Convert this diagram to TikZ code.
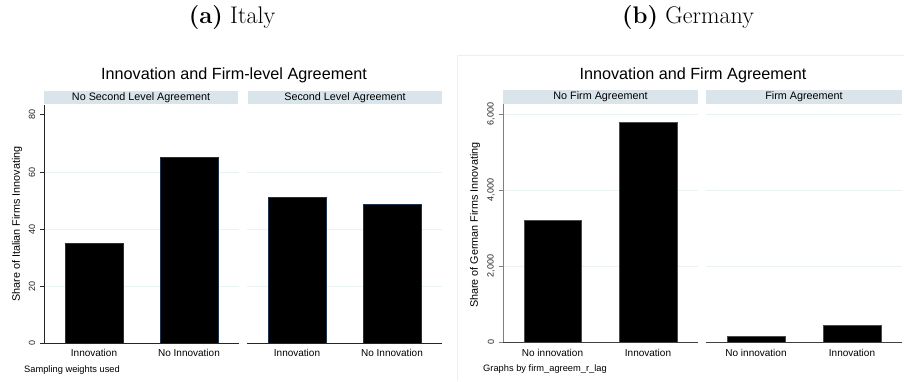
\documentclass[tikz,border=0pt]{standalone}
\usepackage{fontspec}
\setsansfont{Liberation Sans}
\definecolor{stripc}{HTML}{D9E4EB}
\definecolor{gridc}{HTML}{EAF2F3}
\definecolor{barline}{HTML}{1A3350}
\definecolor{frame}{HTML}{EEEEEE}
\definecolor{gaxis}{HTML}{808080}
\tikzset{
  strip/.style={fill=stripc, draw=none},
  gridl/.style={draw=gridc, line width=0.8pt},
  ibar/.style={fill=black, draw=barline, line width=0.8pt},
  gbar/.style={fill=black, draw=black!70, line width=0.6pt},
  iaxis/.style={draw=black!85, line width=0.8pt},
  gaxisl/.style={draw=gaxis, line width=0.8pt},
  ttl/.style={font=\sffamily\fontsize{16.2}{18}\selectfont, inner sep=0pt},
  striptxt/.style={font=\sffamily\fontsize{10.8}{12}\selectfont, inner sep=0pt},
  cat/.style={font=\sffamily\fontsize{10}{11}\selectfont, inner sep=0pt},
  tick/.style={font=\sffamily\fontsize{9}{10}\selectfont, inner sep=0pt, rotate=90, text=black!85},
  ylab/.style={font=\sffamily\fontsize{10.8}{12}\selectfont, inner sep=0pt, rotate=90},
  note/.style={font=\sffamily\fontsize{9.3}{10}\selectfont, inner sep=0pt, anchor=west},
  head/.style={font=\fontsize{24}{28}\selectfont, inner sep=0pt}
}
\begin{document}
\begin{tikzpicture}[x=1pt,y=-1pt]
\useasboundingbox (0,0) rectangle (904,381);
\fill[white] (0,0) rectangle (904,381);
% headings
\node[head] (ha) at (232,18) {\textbf{(a)} Italy};
\node[head] (hb) at (688,18) {\textbf{(b)} Germany};
% Germany frame
\draw[frame, line width=0.8pt] (457,381) -- (457,55) -- (904,55);

% ================= ITALY =================
\node[ttl] (it) at (234,75) {Innovation and Firm-level Agreement};
\fill[strip] (44,91) rectangle (238,104);
\fill[strip] (248,91) rectangle (442,104);
\node[striptxt] (is1) at (141,97.5) {No Second Level Agreement};
\node[striptxt] (is2) at (345,97.5) {Second Level Agreement};
% gridlines
\foreach \yy in {286.75,229.5,172.25} {
  \draw[gridl] (45,\yy) -- (239,\yy);
  \draw[gridl] (247,\yy) -- (442,\yy);
}
% bars
\draw[ibar] (65,343) rectangle (123,243);
\draw[ibar] (160,343) rectangle (218,157);
\draw[ibar] (268,343) rectangle (326,197);
\draw[ibar] (363,343) rectangle (421,204);
% axes
\draw[iaxis] (44,105) -- (44,343.4);
\draw[iaxis] (44,343) -- (239,343);
\draw[iaxis] (247,343) -- (442,343);
\foreach \yy/\t [count=\i] in {343/0,286.75/20,229.5/40,172.25/60,114/80} {
  \draw[iaxis] (40,\yy) -- (44,\yy);
  \node[tick] (itk\i) at (32,\yy) {\t};
}
\node[ylab] (iyl) at (17,224) {Share of Italian Firms Innovating};
\node[cat] (ic1) at (94,353) {Innovation};
\node[cat] (ic2) at (189,353) {No Innovation};
\node[cat] (ic3) at (297,353) {Innovation};
\node[cat] (ic4) at (392,353) {No Innovation};
\node[note] (inote) at (24,370) {Sampling weights used};

% ================= GERMANY =================
\node[ttl] (gt) at (693,75) {Innovation and Firm Agreement};
\fill[strip] (503,90) rectangle (698,104);
\fill[strip] (706,90) rectangle (902,104);
\node[striptxt] (gs1) at (600.5,97) {No Firm Agreement};
\node[striptxt] (gs2) at (804,97) {Firm Agreement};
\foreach \yy in {266,190,114} {
  \draw[gridl] (504,\yy) -- (698,\yy);
  \draw[gridl] (706,\yy) -- (902,\yy);
}
\draw[gbar] (524,342) rectangle (581,220);
\draw[gbar] (619,342) rectangle (677,122);
\draw[gbar] (727,342) rectangle (785,336);
\draw[gbar] (823,342) rectangle (881,325);
\draw[gaxisl] (503,104) -- (503,342.4);
\draw[draw=black!75, line width=0.8pt] (503,342) -- (698,342);
\draw[draw=black!75, line width=0.8pt] (706,342) -- (902,342);
\foreach \yy/\t [count=\i] in {342/0,266/{2,000},190/{4,000},114/{6,000}} {
  \draw[gaxisl] (499,\yy) -- (503,\yy);
  \node[tick] (gtk\i) at (491,\yy) {\t};
}
\node[ylab] (gyl) at (475,225) {Share of German Firms Innovating};
\node[cat] (gc1) at (552.5,353) {No innovation};
\node[cat] (gc2) at (648,353) {Innovation};
\node[cat] (gc3) at (756,353) {No innovation};
\node[cat] (gc4) at (852,353) {Innovation};
\node[note] (gnote) at (483,369) {Graphs by firm\_agreem\_r\_lag};
\end{tikzpicture}
\end{document}
